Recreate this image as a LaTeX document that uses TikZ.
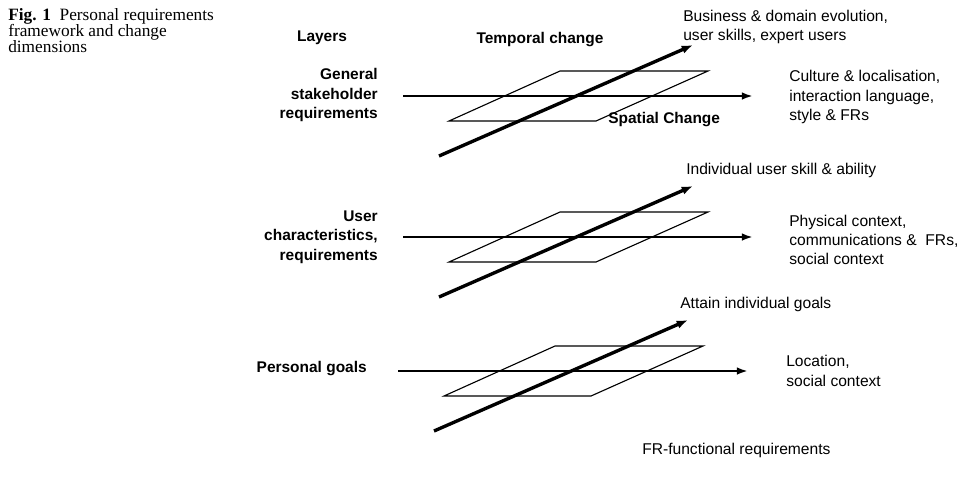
\documentclass[tikz,border=0pt]{standalone}
\usepackage{fontspec}
\setmainfont{Liberation Sans}
\newfontfamily\capfont{Liberation Serif}
\usetikzlibrary{arrows.meta, positioning}

\begin{document}
\begin{tikzpicture}[
    x=0.025cm, y=-0.025cm,
    layer/.style={
        anchor=east, align=right, inner sep=0,
        font=\fontsize{11}{13.8}\selectfont\bfseries
    },
    dimlabel/.style={
        inner sep=0,
        font=\fontsize{11}{13.8}\selectfont\bfseries
    },
    effect/.style={
        anchor=west, align=left, inner sep=0,
        font=\fontsize{11.1}{13.8}\selectfont
    },
    caption/.style={
        anchor=west, align=left, inner sep=0,
        font=\capfont\fontsize{12.3}{11.4}\selectfont
    },
    plane/.style={line width=0.8pt},
    spatial/.style={-{Latex[length=8pt, width=5.5pt]}, line width=1.8pt},
    temporal/.style={-{Latex[length=8pt, width=6pt]}, line width=2.4pt}
]
\useasboundingbox (0,0) rectangle (974,496);

% 1. Caption (top left)
\node[caption] (fig) at (8,31) {\textbf{Fig. 1}\enspace Personal requirements\\framework and change\\dimensions};

% 2. Headings
\node[dimlabel] (layers) at (322,38) {Layers};
\node[dimlabel] (temporal) at (540,40) {Temporal change};
\node[dimlabel, anchor=west] (spatial) at (608,120) {Spatial Change};

% 3. Planes with the two change axes, one per layer
% each layer is the top one shifted down (layer 3 also a bit left)
\foreach \l/\dx/\dy in {1/0/0, 2/0/141, 3/-5/275} {
    \begin{scope}[shift={(\dx,\dy)}]
        \coordinate (hs\l) at (403,96);
        \coordinate (he\l) at (753,96);
        \coordinate (ds\l) at (439,156);
        \coordinate (de\l) at (693,45);
        \draw[plane] (560,71) -- (708,71) -- (596,121) -- (449,121) -- cycle;
        \draw[spatial] (hs\l) -- (he\l);
        \draw[temporal] (ds\l) -- (de\l);
    \end{scope}
}

% 4. Layer names (left)
\node[layer] (general) at (378,95) {General\\stakeholder\\requirements};
\node[layer] (user) at (378,237) {User\\characteristics,\\requirements};
\node[layer] (personal) at (367,369) {Personal goals};

% 5. Change drivers (right)
\node[effect] (business) at (683,27) {Business \& domain evolution,\\user skills, expert users};
\node[effect] (culture) at (789,97) {Culture \& localisation,\\interaction language,\\style \& FRs};
\node[effect] (individual) at (686,170) {Individual user skill \& ability};
\node[effect] (physical) at (789,240) {Physical context,\\communications \& \ FRs,\\social context};
\node[effect] (attain) at (680,304) {Attain individual goals};
\node[effect] (location) at (786,371) {Location,\\social context};
\node[effect] (legend) at (642,450) {FR-functional requirements};

\end{tikzpicture}
\end{document}
